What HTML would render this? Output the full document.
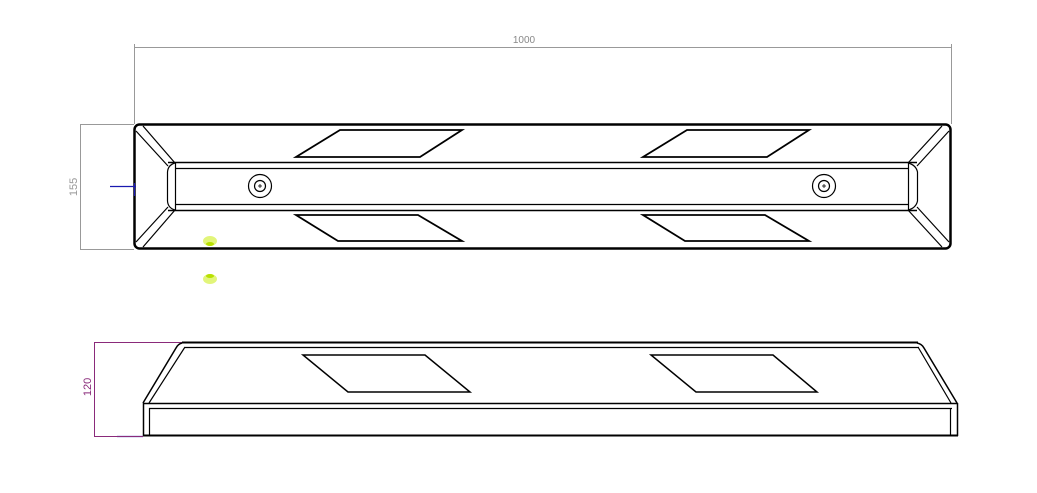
<!DOCTYPE html>
<html><head><meta charset="utf-8"><style>body{margin:0;background:#fff}svg{display:block}</style></head>
<body>
<svg width="1037" height="493" viewBox="0 0 1037 493" xmlns="http://www.w3.org/2000/svg" font-family="Liberation Sans, sans-serif">
<!-- dimension 1000 -->
<g stroke="#999" stroke-width="1" fill="none">
<line x1="134.5" y1="44" x2="134.5" y2="124"/>
<line x1="951.5" y1="44" x2="951.5" y2="124"/>
<line x1="134" y1="47.5" x2="951" y2="47.5"/>
<line x1="80.5" y1="124" x2="80.5" y2="249"/>
<line x1="80" y1="124.5" x2="134" y2="124.5"/>
<line x1="80" y1="249.5" x2="134" y2="249.5"/>
</g>
<text x="524" y="43" font-size="10" fill="#888" text-anchor="middle">1000</text>
<text transform="translate(77,187) rotate(-90)" font-size="11" fill="#999" text-anchor="middle">155</text>
<!-- top view -->
<g stroke="#000" fill="none">
<rect x="134.5" y="124.5" width="816" height="124" rx="5" stroke-width="2.5"/>
<line x1="168" y1="162.5" x2="917" y2="162.5" stroke-width="1.5"/>
<line x1="175" y1="168.5" x2="908" y2="168.5" stroke-width="1.2"/>
<line x1="175" y1="204.5" x2="908" y2="204.5" stroke-width="1.2"/>
<line x1="168" y1="210.5" x2="917" y2="210.5" stroke-width="1.5"/>
<path d="M175,163 Q168,165 167.5,172 L167.5,201 Q168,208 175,210" stroke-width="1.2"/>
<line x1="175.5" y1="163" x2="175.5" y2="210" stroke-width="1.2"/>
<path d="M908,163 Q916,165 917.5,172 L917.5,201 Q916,208 908,210" stroke-width="1.2"/>
<line x1="908.5" y1="163" x2="908.5" y2="210" stroke-width="1.2"/>
<!-- chamfers left -->
<line x1="136" y1="131" x2="168" y2="166" stroke-width="1.2"/>
<line x1="143" y1="126" x2="175" y2="163" stroke-width="1.2"/>
<line x1="136" y1="242" x2="168" y2="207" stroke-width="1.2"/>
<line x1="143" y1="247" x2="175" y2="210" stroke-width="1.2"/>
<!-- chamfers right -->
<line x1="949" y1="131" x2="917" y2="166" stroke-width="1.2"/>
<line x1="942" y1="126" x2="908" y2="163" stroke-width="1.2"/>
<line x1="949" y1="242" x2="917" y2="207" stroke-width="1.2"/>
<line x1="942" y1="247" x2="908" y2="210" stroke-width="1.2"/>
<!-- parallelograms -->
<g stroke-width="1.8">
<polygon points="340,130 462,130 420,157 296,157"/>
<polygon points="687,130 809,130 767,157 643,157"/>
<polygon points="296,215 418,215 462,241 338,241"/>
<polygon points="643,215 765,215 809,241 685,241"/>
</g>
<g stroke-width="1.2">
<circle cx="260" cy="186" r="11.5"/><circle cx="260" cy="186" r="5.5"/>
<circle cx="824" cy="186" r="11.5"/><circle cx="824" cy="186" r="5.5"/>
</g>
</g>
<line x1="258" y1="186" x2="262" y2="186" stroke="#000" stroke-width="0.8"/>
<line x1="260" y1="184" x2="260" y2="188" stroke="#000" stroke-width="0.8"/>
<line x1="822" y1="186" x2="826" y2="186" stroke="#000" stroke-width="0.8"/>
<line x1="824" y1="184" x2="824" y2="188" stroke="#000" stroke-width="0.8"/>
<!-- blue marks -->
<g stroke="#1a1ab0" stroke-width="1.2" fill="#1a1ab0">
<line x1="110" y1="186.5" x2="136" y2="186.5"/>
<line x1="134.5" y1="183" x2="134.5" y2="196"/>
<line x1="117" y1="436.5" x2="143" y2="436.5"/>
</g>
<ellipse cx="210" cy="241" rx="7" ry="5" fill="#e2f57a"/>
<ellipse cx="210" cy="279" rx="7" ry="5" fill="#e2f57a"/>
<ellipse cx="210" cy="244" rx="4" ry="2" fill="#b8e000"/>
<ellipse cx="210" cy="276" rx="4" ry="2" fill="#b8e000"/>
<!-- side view dim -->
<g stroke="#8a2a7a" stroke-width="1" fill="none">
<line x1="94.5" y1="342" x2="94.5" y2="436"/>
<line x1="94" y1="342.5" x2="182" y2="342.5"/>
<line x1="94" y1="436.5" x2="143" y2="436.5"/>
</g>
<text transform="translate(91,387) rotate(-90)" font-size="11" fill="#8a2a7a" text-anchor="middle">120</text>
<!-- side view -->
<g stroke="#000" fill="none" stroke-width="1.5">
<line x1="182" y1="342.5" x2="918" y2="342.5" stroke-width="2"/>
<line x1="185" y1="347.5" x2="919" y2="347.5" stroke-width="1.2"/>
<path d="M182,343 Q178,344 176,348 L143,403" stroke-width="1.5"/>
<line x1="185" y1="347" x2="149" y2="403" stroke-width="1.2"/>
<path d="M917,343 Q922,344 924,348 L957,403"/>
<line x1="918" y1="347" x2="951" y2="403" stroke-width="1.2"/>
<line x1="143" y1="403.5" x2="958" y2="403.5"/>
<line x1="149" y1="408.5" x2="952" y2="408.5" stroke-width="1.2"/>
<line x1="143.5" y1="403" x2="143.5" y2="436"/>
<line x1="149.5" y1="408" x2="149.5" y2="436" stroke-width="1.2"/>
<line x1="957.5" y1="403" x2="957.5" y2="436"/>
<line x1="950.5" y1="408" x2="950.5" y2="436" stroke-width="1.2"/>
<line x1="143" y1="435.5" x2="958" y2="435.5" stroke-width="2"/>
<polygon points="303,355 425,355 470,392 348,392"/>
<polygon points="651,355 773,355 817,392 696,392"/>
</g>
</svg>
</body></html>
